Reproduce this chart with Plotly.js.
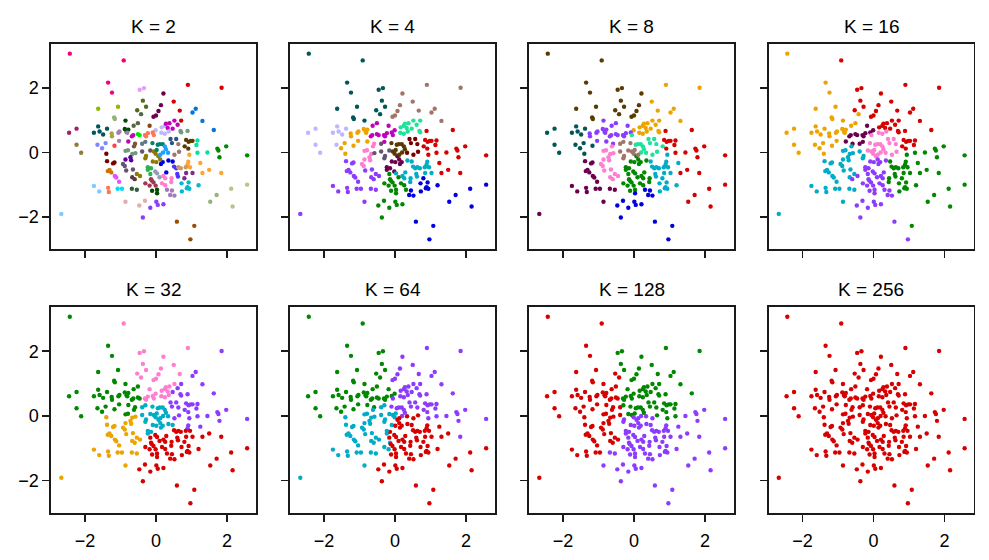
<!DOCTYPE html>
<html><head><meta charset="utf-8">
<script src="https://cdn.plot.ly/plotly-3.0.1.min.js"></script>
<style>html,body{margin:0;padding:0;background:#fff}#chart{width:989px;height:560px}</style>
</head><body><div id="chart"></div>
<script>
// ---- point data (x, y), grouped by their colour in the K = 32 panel ----
const ptsGreen = [[-2.43,3.07],[-1.35,2.17],[-1.24,1.86],[-1.63,1.36],[-1.07,1.42],[-1.18,1.09],[-1.16,1.04],[-0.86,0.99],[-0.63,0.83],[-0.51,0.91],[-1.63,0.81],[-1.38,0.74],[-2.24,0.74],[-2.45,0.61],[-1.75,0.61],[-1.59,0.65],[-1.49,0.56],[-1.25,0.59],[-1.24,0.50],[-1.06,0.61],[-1.03,0.65],[-0.88,0.73],[-0.83,0.64],[-0.78,0.71],[-0.81,0.61],[-0.68,0.50],[-0.64,0.54],[-0.51,0.57],[-0.46,0.54],[-1.04,0.36],[-1.42,0.29],[-1.65,0.24],[-1.52,0.13],[-2.24,0.24],[-2.11,-0.01],[-1.17,0.21],[-0.78,0.34],[-0.59,0.27],[-0.86,0.05],[-0.79,0.07],[-0.62,0.19]];
const ptsPink = [[-0.91,2.86],[0.90,2.10],[-0.46,1.95],[-0.34,2.00],[0.21,1.83],[-0.37,1.61],[0.50,1.58],[-0.28,1.42],[0.14,1.47],[-0.53,1.31],[-0.42,1.19],[0.07,1.29],[0.67,1.30],[0.52,0.99],[-0.07,1.11],[0.00,1.15],[-0.18,0.83],[0.16,0.78],[0.25,0.83],[0.28,0.89],[0.38,0.91],[0.33,0.76],[-0.01,0.69],[-0.09,0.62],[-0.23,0.60],[-0.31,0.54],[-0.28,0.50],[-0.06,0.54],[0.15,0.61],[0.25,0.58],[0.36,0.65]];
const ptsPurple = [[1.85,2.01],[1.12,1.36],[1.03,1.24],[1.31,0.98],[0.71,0.99],[0.61,0.86],[0.47,0.74],[0.69,0.67],[0.71,0.63],[0.89,0.67],[1.63,0.70],[0.41,0.42],[0.45,0.29],[0.57,0.42],[0.63,0.26],[0.81,0.19],[0.85,0.39],[0.92,0.33],[0.98,0.36],[1.03,0.36],[1.14,0.23],[1.17,0.37],[0.91,0.12],[0.65,0.02],[0.94,-0.07],[1.17,-0.01],[1.45,0.00],[1.73,0.12],[1.79,-0.15],[1.98,0.19],[2.57,-0.09],[1.25,-0.33],[0.91,-0.29],[0.89,-0.38],[1.76,0.06],[0.52,-0.07]];
const ptsCyan = [[-0.39,0.27],[-0.30,0.33],[-0.10,0.29],[0.05,0.24],[0.11,0.26],[0.19,0.26],[0.25,0.19],[-0.39,0.03],[-0.16,0.06],[-0.06,0.03],[-0.01,-0.04],[0.02,0.08],[0.20,0.00],[0.34,-0.01],[-0.28,-0.11],[-0.09,-0.28],[0.01,-0.30],[0.07,-0.12],[0.14,-0.36],[0.19,-0.30],[0.47,-0.28],[-0.23,-0.54],[-0.14,-0.49],[-0.23,-0.46],[0.12,-0.07],[-0.30,-0.18],[0.12,-0.22],[0.35,-0.25],[0.28,0.10]];
const ptsOrange = [[-1.40,-0.04],[-1.38,-0.27],[-1.21,-0.34],[-1.17,-0.31],[-0.93,-0.36],[-0.86,-0.22],[-0.67,-0.05],[-0.58,-0.02],[-0.72,-0.15],[-0.70,-0.24],[-0.88,-0.42],[-0.84,-0.56],[-1.31,-0.54],[-1.26,-0.62],[-1.36,-0.58],[-1.16,-0.73],[-1.12,-0.78],[-0.65,-0.53],[-0.67,-0.77],[-0.60,-0.83],[-0.54,-0.67],[-0.45,-0.73],[-1.04,-0.91],[-1.75,-1.04],[-1.35,-1.10],[-1.60,-1.21],[-1.33,-1.23],[-1.08,-1.13],[-0.96,-1.13],[-0.68,-1.13],[-0.54,-1.16],[-0.86,-1.53],[-2.67,-1.91]];
const ptsRed = [[-0.16,-0.67],[-0.02,-0.59],[0.03,-0.65],[0.21,-0.73],[0.29,-0.62],[0.51,-0.44],[0.57,-0.49],[0.63,-0.46],[0.70,-0.49],[0.84,-0.46],[0.96,-0.46],[0.85,-0.64],[1.03,-0.64],[1.31,-0.64],[0.60,-0.67],[0.44,-0.80],[0.26,-0.80],[0.62,-0.75],[0.80,-0.80],[0.10,-0.77],[-0.14,-0.83],[-0.12,-0.87],[-0.30,-0.96],[-0.18,-1.03],[-0.07,-0.93],[-0.01,-1.03],[0.17,-0.96],[0.26,-1.02],[0.43,-0.92],[0.72,-0.96],[0.92,-0.93],[1.20,-1.02],[0.89,-1.08],[0.94,-1.13],[0.87,-1.11],[-0.11,-1.19],[0.03,-1.16],[0.31,-1.16],[0.45,-1.18],[0.73,-1.21],[0.40,-1.32],[0.52,-1.34],[1.50,-0.54],[1.84,-0.64],[2.57,-1.00],[2.12,-1.13],[1.71,-1.32],[1.53,-1.53],[2.16,-1.68],[-0.31,-1.50],[-0.47,-1.65],[-0.16,-1.72],[0.01,-1.53],[0.05,-1.63],[0.21,-1.61],[-0.37,-2.02],[0.59,-2.15],[1.08,-2.28],[0.97,-2.70],[0.03,-1.27]];

const kValues = [2, 4, 8, 16, 32, 64, 128, 256];
const xTicks = [-2, 0, 2];
const yTicks = [-2, 0, 2];

// ---- cluster seeds: [x, y, colour key]; each point takes the nearest seed's colour ----
const seedsK2 = [[-2.41,3.08,'c1'],[-0.9,2.86,'c1'],[-1.29,2.0,'c1'],[-0.4,1.99,'c2'],[0.1,1.43,'c3'],[-0.32,1.53,'c4'],[0.57,1.22,'c5'],[0.9,2.12,'c5'],[1.85,2.0,'c5'],[1.13,1.32,'c6'],[1.47,0.86,'c6'],[-1.63,1.37,'c7'],[-1.06,1.44,'c7'],[-1.18,1.06,'c8'],[-0.81,0.79,'c9'],[-0.51,0.93,'c10'],[-1.58,0.68,'c11'],[-2.35,0.67,'c12'],[-2.19,0.13,'c13'],[-1.56,0.21,'c14'],[-1.16,0.17,'c15'],[-1.24,0.53,'c16'],[-0.97,0.55,'c17'],[-0.66,0.45,'c18'],[-0.48,0.6,'c19'],[-0.78,0.08,'c20'],[-0.6,0.24,'c21'],[-0.37,0.34,'c22'],[-0.21,0.5,'c23'],[-0.25,0.78,'c24'],[0.24,0.7,'c25'],[0.41,0.81,'c18'],[0.71,0.67,'c20'],[0.92,0.29,'c26'],[1.21,0.24,'c27'],[1.88,0.03,'c28'],[2.58,-0.11,'c28'],[1.41,-0.41,'c29'],[0.88,-0.35,'c29'],[0.41,0.42,'c30'],[0.1,0.21,'c31'],[0.22,0.05,'c32'],[0.52,0.17,'c33'],[0.29,-0.38,'c34'],[0.6,-0.59,'c35'],[0.74,-0.5,'c36'],[0.93,-0.64,'c37'],[0.85,-1.09,'c38'],[1.21,-1.0,'c38'],[1.63,-1.42,'c8'],[2.3,-1.31,'c39'],[0.59,-2.14,'c40'],[1.04,-2.5,'c40'],[0.38,-0.85,'c41'],[0.38,-1.26,'c17'],[0.06,-1.52,'c42'],[-0.37,-2.0,'c42'],[-0.55,-1.52,'c43'],[0.06,-0.54,'c44'],[-0.08,-0.14,'c45'],[-0.2,-0.59,'c46'],[-0.1,-0.98,'c47'],[-0.04,-1.16,'c9'],[-0.49,-0.67,'c45'],[-0.65,-0.74,'c48'],[-0.79,-0.18,'c49'],[-0.32,-0.12,'c45'],[-0.37,0.08,'c50'],[-1.28,-0.23,'c51'],[-1.28,-0.54,'c52'],[-1.13,-0.76,'c53'],[-0.81,-0.47,'c50'],[-1.68,-1.1,'c54'],[-2.67,-1.88,'c54'],[-1.33,-1.13,'c23'],[-1.0,-1.13,'c55'],[-0.6,-1.16,'c56']];
const seedsK4 = [[-2.43,3.08,'DT'],[-1.3,1.8,'DT'],[-1.1,1.2,'DT'],[-0.4,1.8,'DT'],[-0.4,1.3,'DT'],[-0.9,2.8,'DT'],[0.3,1.6,'BP'],[0.9,2.1,'BP'],[1.85,2.0,'BP'],[1.3,1.0,'BP'],[-0.05,1.2,'BP'],[-2.2,0.5,'LAV'],[-1.6,0.5,'LAV'],[-1.0,0.6,'O'],[-1.3,0.1,'O'],[-0.4,0.6,'MAG'],[-0.8,0.0,'K'],[-0.8,-0.3,'K'],[-0.36,0.0,'GP'],[0.05,0.15,'DB'],[0.45,0.3,'DR'],[0.5,0.8,'MINT'],[1.0,0.3,'R'],[1.7,0.3,'R'],[2.2,-0.2,'R'],[1.5,-0.4,'R'],[0.7,-0.6,'C'],[0.3,-0.6,'C'],[0.0,-0.35,'DM'],[-1.3,-0.6,'P'],[-1.5,-1.1,'P'],[-0.8,-1.2,'P'],[-2.68,-1.88,'P'],[-0.6,-0.6,'P'],[-0.1,-0.9,'G'],[-0.1,-1.5,'G'],[-0.4,-1.8,'G'],[0.8,-1.0,'B'],[0.6,-2.1,'B'],[1.0,-2.6,'B'],[1.6,-1.3,'B'],[2.3,-1.3,'B']];
const seedsK8 = [[-2.43,3.08,'DB'],[-1.3,1.9,'DB'],[-1.4,1.2,'DB'],[-0.4,1.7,'DB'],[0.1,1.5,'DB'],[-0.9,2.8,'DB'],[0.7,1.5,'O'],[1.3,1.2,'O'],[1.85,2.0,'O'],[0.9,2.1,'O'],[0.4,0.8,'O'],[-2.2,0.4,'DT'],[-1.6,0.4,'DT'],[-1.3,0.1,'DT'],[-0.6,0.7,'P'],[-1.0,0.5,'P'],[0.3,0.25,'MINT'],[0.6,0.15,'MINT'],[-0.2,0.05,'BP'],[-0.7,-0.2,'K'],[-0.6,-0.6,'K'],[-1.3,-0.5,'DM'],[-1.5,-1.1,'DM'],[-0.8,-1.3,'DM'],[-2.68,-1.88,'DM'],[0.0,-0.4,'G'],[0.0,-0.9,'G'],[0.8,-0.4,'C'],[0.9,-0.9,'C'],[0.2,-1.5,'B'],[-0.4,-1.6,'B'],[0.6,-2.1,'B'],[1.0,-2.6,'B'],[1.0,0.3,'R'],[1.6,0.3,'R'],[2.3,-0.3,'R'],[1.7,-0.8,'R'],[1.9,-1.5,'R']];
const seedsK16 = [[-1.7,1.3,'O'],[-1.3,0.5,'O'],[-2.3,0.4,'O'],[-2.4,3.0,'O'],[-0.8,0.9,'O'],[-1.3,2.0,'O'],[-0.9,2.8,'R'],[-0.35,1.7,'R'],[0.4,1.2,'R'],[1.0,0.7,'R'],[1.5,1.5,'R'],[1.6,0.6,'R'],[-0.4,0.6,'DM'],[0.1,0.3,'K'],[-0.8,-0.2,'C'],[-1.4,-0.9,'C'],[-2.6,-1.9,'C'],[-0.87,-1.52,'C'],[0.0,-0.6,'P'],[-0.1,-1.5,'P'],[0.55,-2.1,'P'],[0.97,-2.72,'P'],[0.8,-0.6,'G'],[1.8,-0.3,'G'],[1.6,-1.4,'G'],[1.1,-2.25,'G'],[2.5,-0.5,'G']];
const seedsK64 = [[-1.2,0.7,'G'],[-2.0,0.4,'G'],[-0.6,1.6,'G'],[-0.4,0.7,'G'],[-1.5,2.0,'G'],[-2.4,3.0,'G'],[-0.9,2.8,'G'],[0.7,0.6,'P'],[1.4,0.3,'P'],[0.3,1.4,'P'],[1.6,1.4,'P'],[2.0,-0.1,'P'],[0.2,0.3,'P'],[-0.9,-0.4,'C'],[-0.2,0.0,'C'],[-1.5,-1.0,'C'],[-0.6,-1.1,'C'],[-2.7,-1.9,'C'],[0.4,-0.8,'R'],[1.2,-0.7,'R'],[-0.1,-1.5,'R'],[1.8,-1.3,'R'],[0.9,-2.4,'R'],[0.3,-0.3,'R']];
const seedsK128 = [[-1.2,0.6,'R'],[-1.0,-0.5,'R'],[-2.0,0.3,'R'],[-0.7,0.2,'R'],[-1.5,1.8,'R'],[-1.3,-1.0,'R'],[-0.7,1.2,'R'],[-0.94,2.86,'R'],[-2.4,3.0,'R'],[-2.7,-1.9,'R'],[0.3,0.65,'G'],[0.9,0.4,'G'],[0.0,1.4,'G'],[1.2,1.3,'G'],[-0.4,1.9,'G'],[1.6,0.8,'G'],[0.9,2.1,'G'],[0.1,0.35,'G'],[0.3,-0.7,'P'],[1.5,-0.5,'P'],[-0.2,-1.4,'P'],[1.7,0.0,'P'],[0.9,-2.4,'P'],[2.3,-1.2,'P'],[0.15,-0.3,'P']];

const palette = {R:'#d60000',P:'#8c3bff',G:'#018700',C:'#00acc6',O:'#eba400',K:'#ff7ed1',DM:'#6b004f',DB:'#573b00',DT:'#005659',B:'#0000dd',MINT:'#1fe39a',BP:'#a1756a',LAV:'#bcb7ff',MAG:'#bf03b8',GP:'#645472',DR:'#790000',
c1:'#f2007b',c2:'#e49cff',c3:'#6b004f',c4:'#556b1f',c5:'#d60000',c6:'#0774d8',c7:'#8eba00',c8:'#95b577',c9:'#004b00',c10:'#546744',c11:'#005659',c12:'#a0206a',c13:'#8e7b3b',c14:'#8287ff',c15:'#ff4040',c16:'#a6a24a',c17:'#a57bb8',c18:'#bf03b8',c19:'#00e400',c20:'#729a7c',c21:'#77563b',c22:'#5e7b87',c23:'#ff7752',c24:'#8b4513',c25:'#bcb7ff',c26:'#573b00',c27:'#00e4a0',c28:'#018700',c29:'#ffa52f',c30:'#2f5282',c31:'#008069',c32:'#1ca1ff',c33:'#a1756a',c34:'#0000dd',c35:'#4d33ff',c36:'#c89a69',c37:'#7e2a8e',c38:'#00bad0',c39:'#bac389',c40:'#9e4b00',c41:'#ff7ed1',c42:'#8c3bff',c43:'#e2afaf',c44:'#919eb6',c45:'#8e7b01',c46:'#2db152',c47:'#a03a52',c48:'#60383b',c49:'#5901a3',c50:'#645472',c51:'#790000',c52:'#cc7407',c53:'#e252ff',c54:'#7ecaff',c55:'#03dcfd',c56:'#2e5e3a'};

// ---- build ----
const groups = [[ptsGreen,'G'],[ptsPink,'K'],[ptsPurple,'P'],[ptsCyan,'C'],[ptsOrange,'O'],[ptsRed,'R']];
const X = [], Y = [], G32 = [];
groups.forEach(([arr, key]) => arr.forEach(p => { X.push(p[0]); Y.push(p[1]); G32.push(key); }));

function colorsFromSeeds(seeds) {
  return X.map((x, i) => {
    let best = null, bd = Infinity;
    for (const s of seeds) { const d = (x - s[0]) ** 2 + (Y[i] - s[1]) ** 2; if (d < bd) { bd = d; best = s[2]; } }
    return palette[best];
  });
}
const panelColors = [
  colorsFromSeeds(seedsK2), colorsFromSeeds(seedsK4), colorsFromSeeds(seedsK8), colorsFromSeeds(seedsK16),
  G32.map(k => palette[k]), colorsFromSeeds(seedsK64), colorsFromSeeds(seedsK128), X.map(() => palette.R)
];

const FW = 989, FH = 560;
const colLeft = [51, 290, 529, 768.5], PW = 205;
const rowPix = [[44, 249], [307, 513]];
const font = 'Liberation Sans, Arial, Helvetica, sans-serif';
const layout = {width: FW, height: FH, margin: {l: 0, r: 0, t: 0, b: 0}, paper_bgcolor: '#fff', plot_bgcolor: '#fff', showlegend: false, annotations: []};
const data = [];
kValues.forEach((K, i) => {
  const r = Math.floor(i / 4), c = i % 4, n = i + 1;
  const xa = 'xaxis' + (n === 1 ? '' : n), ya = 'yaxis' + (n === 1 ? '' : n);
  const xd = [colLeft[c] / FW, (colLeft[c] + PW) / FW];
  const yd = [1 - rowPix[r][1] / FH, 1 - rowPix[r][0] / FH];
  const common = {showline: true, mirror: true, linecolor: '#1a1a1a', linewidth: 1.6, ticks: 'outside', ticklen: 7, tickwidth: 1.6, tickcolor: '#1a1a1a', showgrid: false, zeroline: false, tickfont: {family: font, size: 18, color: '#000'}, fixedrange: true};
  layout[xa] = Object.assign({}, common, {domain: xd, range: [-2.96, 2.82], tickmode: 'array', tickvals: xTicks, showticklabels: r === 1, ticklabelstandoff: 4, anchor: 'y' + (n === 1 ? '' : n)});
  layout[ya] = Object.assign({}, common, {domain: yd, range: [-3.0, 3.37], tickmode: 'array', tickvals: yTicks, showticklabels: c === 0, anchor: 'x' + (n === 1 ? '' : n)});
  data.push({type: 'scatter', mode: 'markers', x: X, y: Y, xaxis: 'x' + (n === 1 ? '' : n), yaxis: 'y' + (n === 1 ? '' : n), marker: {size: 4.4, color: panelColors[i], line: {width: 0}}, hoverinfo: 'skip'});
  layout.annotations.push({text: 'K = ' + K, xref: 'paper', yref: 'paper', x: (xd[0] + xd[1]) / 2, y: yd[1], xanchor: 'center', yanchor: 'bottom', yshift: 5, showarrow: false, font: {family: font, size: 19, color: '#000'}});
});
Plotly.newPlot('chart', data, layout, {displayModeBar: false, staticPlot: true});
</script></body></html>
